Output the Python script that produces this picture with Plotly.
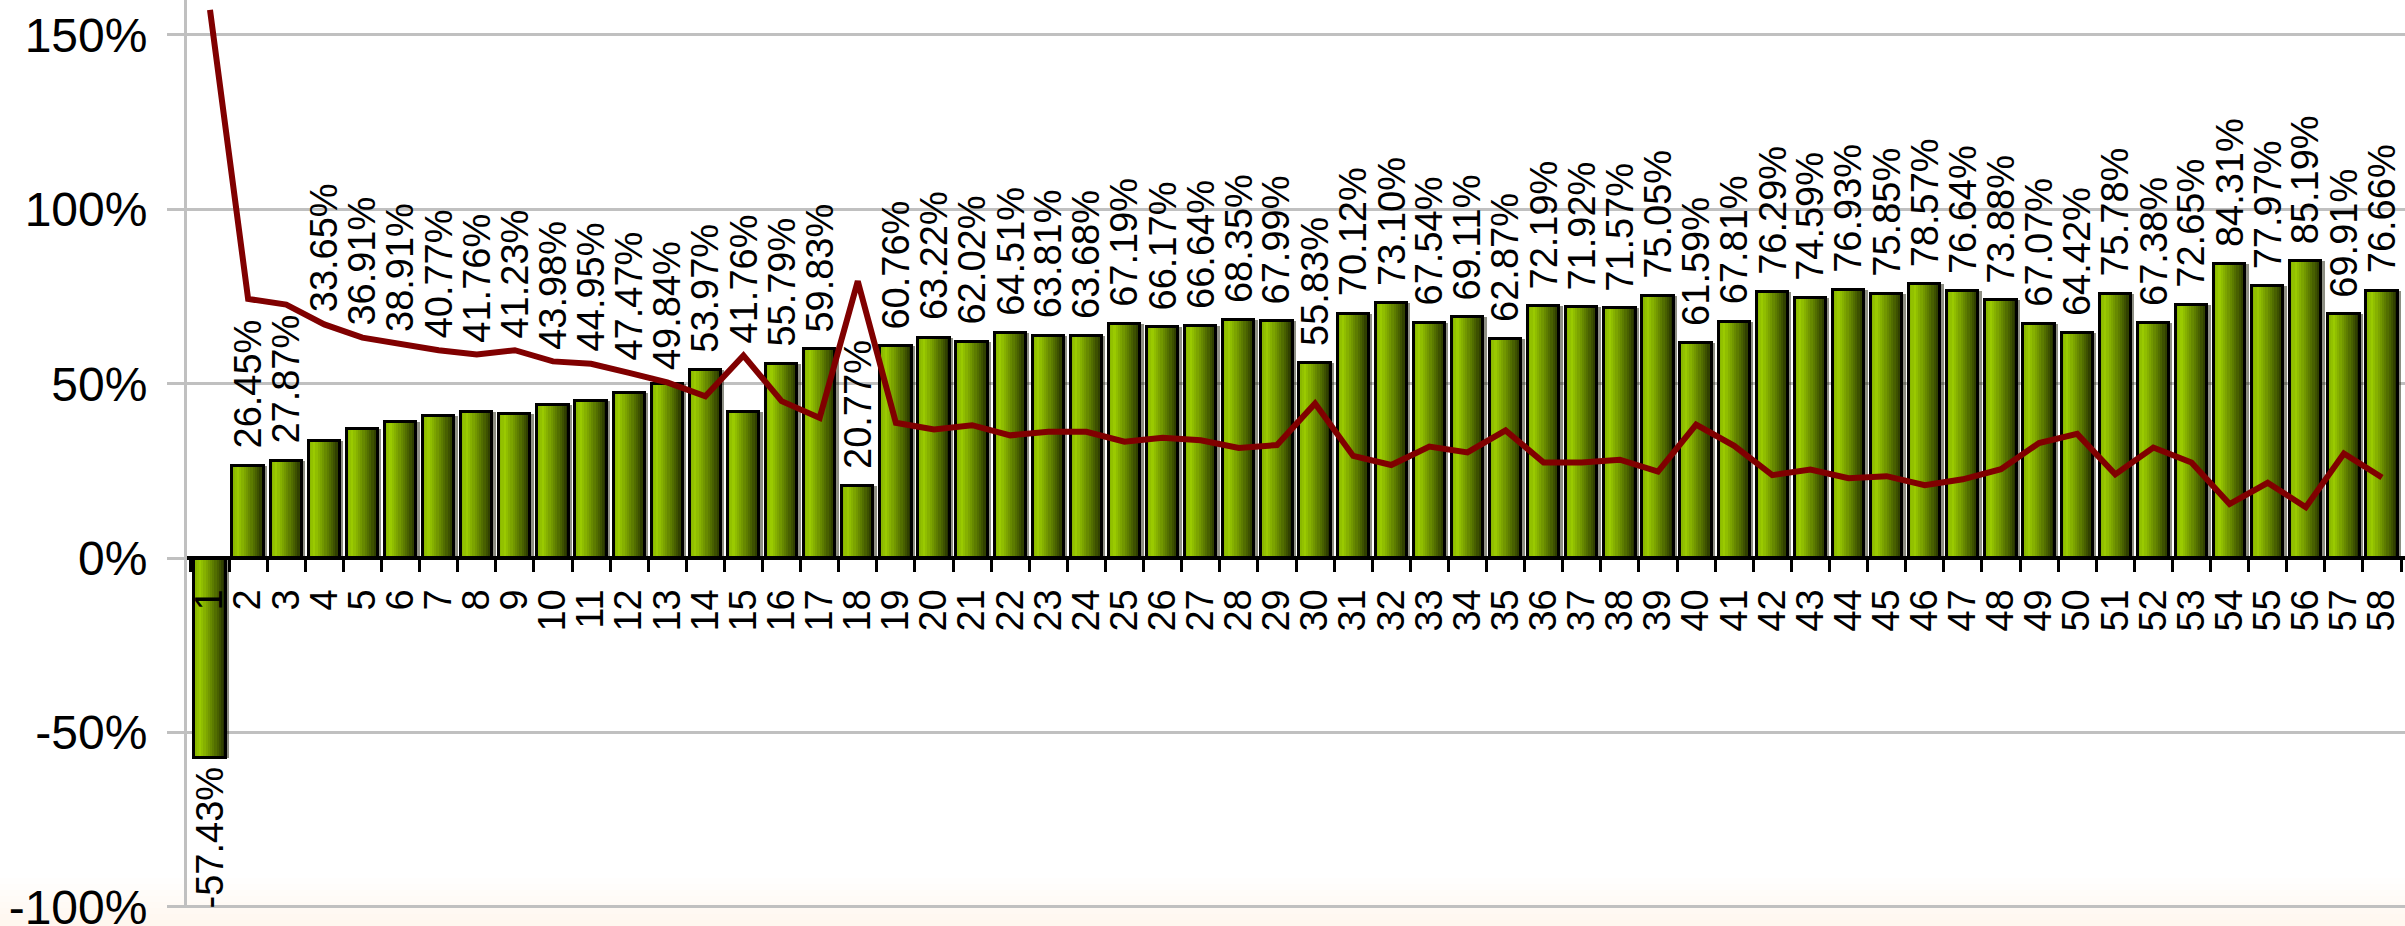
import plotly.graph_objects as go

# ---- data ----
categories = [str(i) for i in range(1, 59)]

bar_values = [
    -57.43, 26.45, 27.87, 33.65, 36.91, 38.91, 40.77, 41.76, 41.23, 43.98,
    44.95, 47.47, 49.84, 53.97, 41.76, 55.79, 59.83, 20.77, 60.76, 63.22,
    62.02, 64.51, 63.81, 63.68, 67.19, 66.17, 66.64, 68.35, 67.99, 55.83,
    70.12, 73.10, 67.54, 69.11, 62.87, 72.19, 71.92, 71.57, 75.05, 61.59,
    67.81, 76.29, 74.59, 76.93, 75.85, 78.57, 76.64, 73.88, 67.07, 64.42,
    75.78, 67.38, 72.65, 84.31, 77.97, 85.19, 69.91, 76.66,
]

line_values = [
    157.2, 74.3, 72.7, 67.0, 63.2, 61.4, 59.6, 58.4, 59.6, 56.4,
    55.7, 53.1, 50.4, 46.4, 58.1, 45.0, 40.2, 79.4, 38.8, 36.9,
    38.1, 35.2, 36.2, 36.2, 33.4, 34.5, 33.8, 31.6, 32.4, 44.3,
    29.3, 26.7, 32.0, 30.3, 36.6, 27.4, 27.4, 28.2, 24.8, 38.3,
    32.2, 23.8, 25.4, 22.9, 23.5, 20.9, 22.6, 25.5, 33.0, 35.6,
    24.0, 31.7, 27.4, 15.5, 21.6, 14.6, 30.0, 23.1,
]

y_tick_values = [-100, -50, 0, 50, 100, 150]
y_tick_text = ["-100%", "-50%", "0%", "50%", "100%", "150%"]

# ---- geometry / style ----
W, H = 2405, 926
M_L, M_R, M_T, M_B = 187, 0, 0, 18
Y_MIN, Y_MAX = -100.3, 160
PLOT_H = H - M_T - M_B
PX_PER_UNIT = PLOT_H / (Y_MAX - Y_MIN)

FONT = "Liberation Sans, Arial, sans-serif"
LABEL_SIZE = 38
BAR_W = 0.82
N_STRIPS = 14

# horizontal shading across each bar, light yellow-green to dark olive
stops = [
    (0.00, (134, 180, 0)),
    (0.18, (154, 202, 0)),
    (0.45, (116, 154, 0)),
    (0.75, (72, 96, 0)),
    (1.00, (32, 42, 0)),
]


def shade(t):
    for (t0, c0), (t1, c1) in zip(stops[:-1], stops[1:]):
        if t <= t1:
            f = (t - t0) / (t1 - t0)
            r, g, b = (round(a + (b_ - a) * f) for a, b_ in zip(c0, c1))
            return f"rgb({r},{g},{b})"
    r, g, b = stops[-1][1]
    return f"rgb({r},{g},{b})"


fig = go.Figure()

# drop shadow to the right of each bar
fig.add_trace(go.Bar(
    x=categories, y=bar_values, width=BAR_W, offset=-BAR_W / 2 + 0.09,
    marker=dict(color="rgba(30,32,10,0.5)", line=dict(width=0)),
    hoverinfo="skip", showlegend=False,
))

# shaded strips forming the bar body
step = BAR_W / N_STRIPS
for i in range(N_STRIPS):
    fig.add_trace(go.Bar(
        x=categories, y=bar_values,
        width=step * 1.15, offset=-BAR_W / 2 + i * step,
        marker=dict(color=shade((i + 0.5) / N_STRIPS), line=dict(width=0)),
        hoverinfo="skip", showlegend=False,
    ))

# bar outline
fig.add_trace(go.Bar(
    x=categories, y=bar_values, width=BAR_W, offset=-BAR_W / 2,
    marker=dict(color="rgba(0,0,0,0)", line=dict(color="black", width=3)),
    showlegend=False,
))

fig.add_trace(go.Scatter(
    x=categories, y=line_values, mode="lines",
    line=dict(color="#800000", width=6),
    showlegend=False,
))

# value labels, rotated; lifted above the line when it would cross them
annotations = []
gap_bar = 15 / PX_PER_UNIT
gap_line = 10 / PX_PER_UNIT
for idx, (v, ln) in enumerate(zip(bar_values, line_values)):
    text = f"{v:.2f}%"
    if v < 0:
        annotations.append(dict(
            x=idx, y=v, text=text, textangle=-90, showarrow=False,
            xanchor="center", yanchor="top", yshift=-6,
            font=dict(family=FONT, size=LABEL_SIZE, color="black"),
        ))
        continue
    n_digits = sum(ch.isdigit() for ch in text)
    label_len = LABEL_SIZE * (0.556 * n_digits + 0.278 + 0.889) / PX_PER_UNIT
    if ln < v or v + gap_bar + label_len < ln - gap_line:
        base, shift = v, 15
    else:
        base, shift = ln, 10
    annotations.append(dict(
        x=idx, y=base, text=text, textangle=-90, showarrow=False,
        xanchor="center", yanchor="bottom", yshift=shift,
        font=dict(family=FONT, size=LABEL_SIZE, color="black"),
    ))

# soft cream wash along the bottom edge
shapes = []
for k in range(8):
    y_top_px = 878 + k * 6
    shapes.append(dict(
        type="rect", xref="paper", yref="paper", layer="below",
        x0=-M_L / (W - M_L - M_R), x1=1.0,
        y0=-(M_B) / PLOT_H - 0.01, y1=(H - M_B - y_top_px) / PLOT_H,
        fillcolor="rgba(248,240,200,0.04)", line=dict(width=0),
    ))

zero_pos = (0 - Y_MIN) / (Y_MAX - Y_MIN)

fig.update_layout(
    width=W, height=H,
    margin=dict(l=M_L, r=M_R, t=M_T, b=M_B, pad=0, autoexpand=False),
    paper_bgcolor="white", plot_bgcolor="rgba(0,0,0,0)",
    barmode="overlay", bargap=0,
    font=dict(family=FONT, color="black"),
    showlegend=False,
    annotations=annotations,
    shapes=shapes,
    xaxis=dict(
        type="category", categoryorder="array", categoryarray=categories,
        tickmode="array", tickvals=categories, ticktext=categories,
        anchor="free", position=zero_pos, side="bottom",
        automargin=False,
        showline=True, linecolor="black", linewidth=4,
        ticks="outside", tickson="boundaries", ticklen=12, tickwidth=3, tickcolor="black",
        tickangle=-90, tickfont=dict(family=FONT, size=38, color="black"),
        ticklabelstandoff=14,
        showgrid=False, zeroline=False,
    ),
    yaxis=dict(
        range=[Y_MIN, Y_MAX], domain=[0, 1],
        automargin=False,
        tickmode="array", tickvals=y_tick_values, ticktext=y_tick_text,
        tickfont=dict(family=FONT, size=48, color="black"),
        ticklabeloverflow="allow",
        showline=True, linecolor="#c0c0c0", linewidth=3,
        ticks="outside", ticklen=17, tickwidth=3, tickcolor="#c0c0c0",
        ticklabelstandoff=10,
        showgrid=True, gridcolor="#c0c0c0", gridwidth=3,
        zeroline=False,
    ),
)

fig.write_html("out.html")
